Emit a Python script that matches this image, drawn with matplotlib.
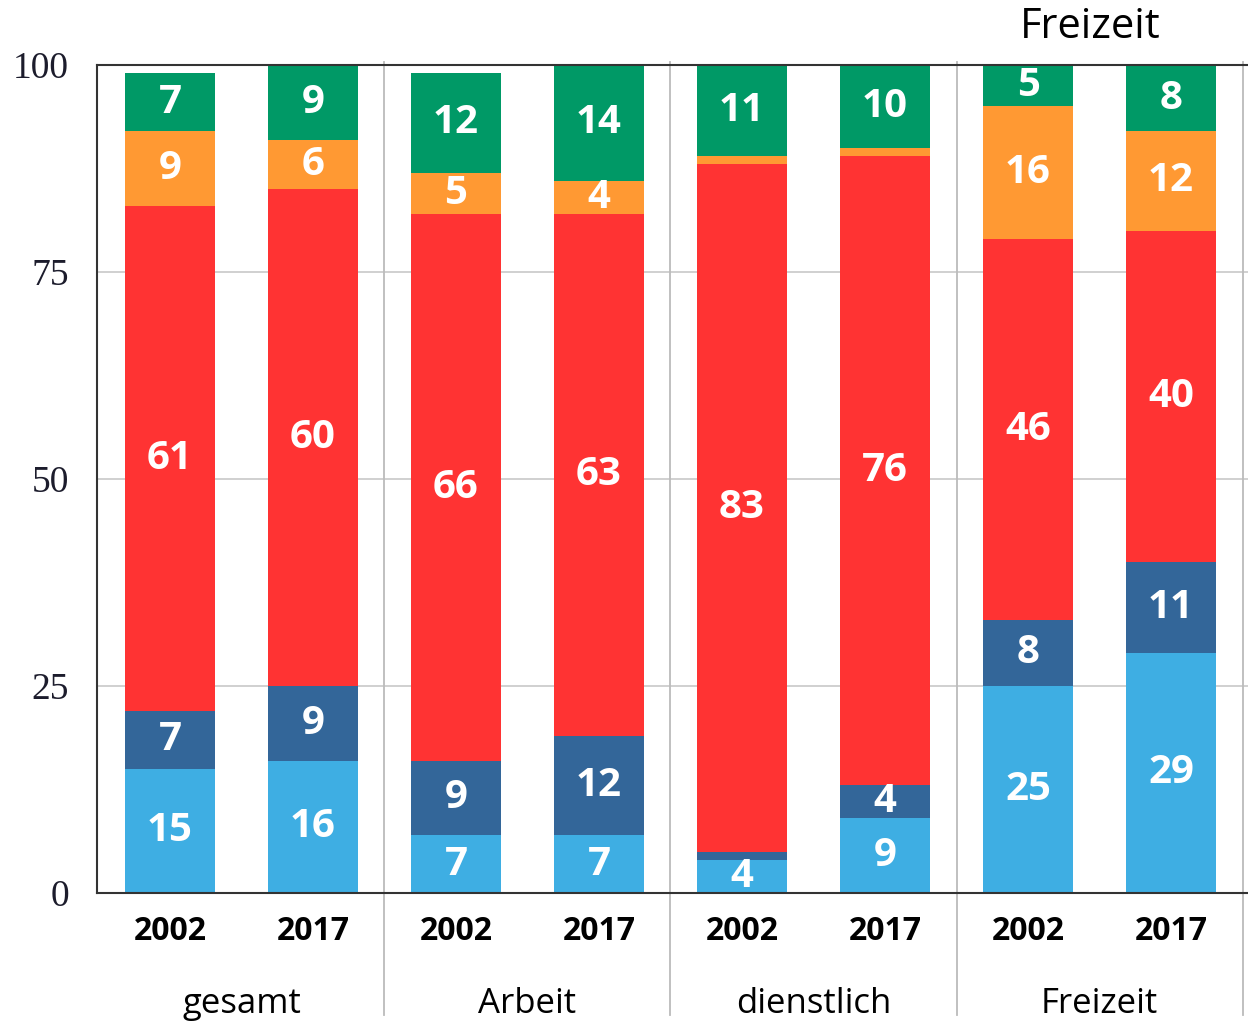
import numpy as np
import matplotlib.pyplot as plt
from matplotlib.transforms import blended_transform_factory

groups = ["gesamt", "Arbeit", "dienstlich", "Freizeit"]
years = ["2002", "2017"]

# stacked shares per bar (gesamt 2002, gesamt 2017, Arbeit 2002, ...)
light_blue = [15, 16, 7, 7, 4, 9, 25, 29]
dark_blue = [7, 9, 9, 12, 1, 4, 8, 11]
red = [61, 60, 66, 63, 83, 76, 46, 40]
orange = [9, 6, 5, 4, 1, 1, 16, 12]
green = [7, 9, 12, 14, 11, 10, 5, 8]

series = [light_blue, dark_blue, red, orange, green]
colors = ["#3eaee3", "#336699", "#ff3333", "#ff9933", "#009966"]

plt.rcParams['font.family'] = ['Open Sans', 'DejaVu Sans']

fig = plt.figure(figsize=(12.48, 10.25), dpi=100)
ax = fig.add_axes([97 / 1248, 1 - 893 / 1025, 1 - 97 / 1248, 828 / 1025])

x = np.arange(len(light_blue))
bottom = np.zeros(len(x))
for vals, col in zip(series, colors):
    vals = np.array(vals)
    ax.bar(x, vals, width=0.63, bottom=bottom, color=col, linewidth=0, zorder=2)
    for xi, b, v in zip(x, bottom, vals):
        if v >= 3:
            ax.text(xi, b + v / 2, str(v), ha="center", va="center", color="white",
                    fontsize=29, fontweight="bold", zorder=3)
    bottom += vals

ax.set_xlim(-0.51, 7.538)
ax.set_ylim(0, 100)
ax.set_yticks([0, 25, 50, 75, 100])
ax.set_yticklabels(["0", "25", "50", "75", "100"], family="Liberation Serif", fontsize=27,
                   color="#1c1c2c")
ax.tick_params(axis="y", length=0, pad=20)
ax.set_xticks([])
for yv in [25, 50, 75]:
    ax.axhline(yv, color="#c8c8c8", linewidth=1.2, zorder=1)

for s in ["top", "bottom", "left"]:
    ax.spines[s].set_color("#333333")
    ax.spines[s].set_linewidth(1.5)
ax.spines["right"].set_visible(False)

# group separators reaching down into the label area
for sep in [1.5, 3.5, 5.5, 7.5]:
    ax.axvline(sep, ymin=-0.147, ymax=1.004, color="#bbbbbb", linewidth=1.3,
               clip_on=False, zorder=1)

trans = blended_transform_factory(ax.transData, ax.transAxes)
for i, xi in enumerate(x):
    ax.text(xi, -0.047, years[i % 2], transform=trans, ha="center", va="center",
            fontsize=23, fontweight="bold", color="black")
for g, name in enumerate(groups):
    ax.text(2 * g + 0.5, -0.134, name, transform=trans, ha="center", va="center",
            fontsize=25, color="black")

fig.text(1090 / 1248, 1 - 27 / 1025, "Freizeit", ha="center", va="center", fontsize=30)

fig.savefig("out.png", dpi=100)
